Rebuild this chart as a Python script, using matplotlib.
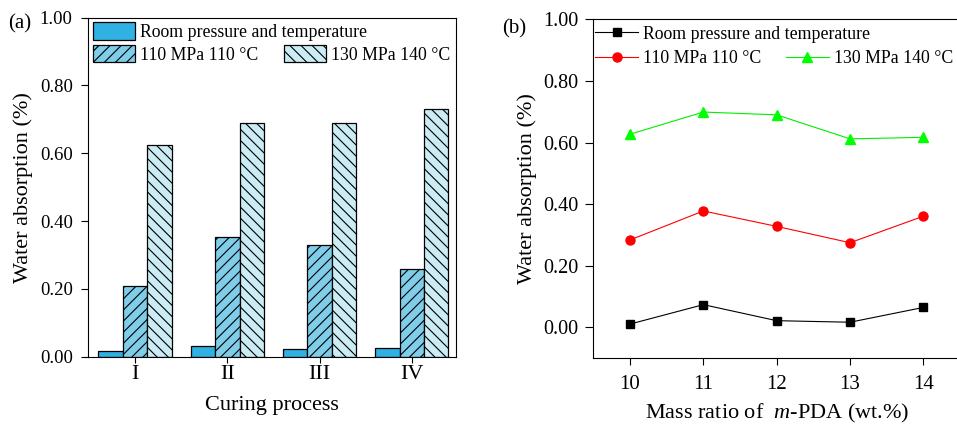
import numpy as np
import matplotlib
matplotlib.use("Agg")
import matplotlib.pyplot as plt

plt.rcParams['font.family'] = ['Liberation Serif', 'DejaVu Serif']
plt.rcParams['mathtext.fontset'] = 'custom'
plt.rcParams['mathtext.rm'] = 'Liberation Serif'
plt.rcParams['mathtext.it'] = 'Liberation Serif:italic'
plt.rcParams['hatch.linewidth'] = 0.8

# data
series = ["Room pressure and temperature", "110 MPa 110 \u00b0C", "130 MPa 140 \u00b0C"]
processes = ["I", "II", "III", "IV"]
bar_room = [0.018, 0.031, 0.024, 0.026]
bar_110 = [0.209, 0.352, 0.329, 0.258]
bar_130 = [0.624, 0.688, 0.690, 0.731]

mass_ratio = [10, 11, 12, 13, 14]
line_room = [0.011, 0.074, 0.022, 0.017, 0.065]
line_110 = [0.284, 0.378, 0.328, 0.275, 0.361]
line_130 = [0.627, 0.699, 0.690, 0.612, 0.617]

fig = plt.figure(figsize=(9.57, 4.24), dpi=100)

# ---- (a) bars
ax1 = fig.add_axes([0.092, 0.1587, 0.3845, 0.800])
x = np.arange(1, len(processes) + 1)
w = 0.265
b1 = ax1.bar(x - w, bar_room, w, color='#2fb1e2', edgecolor='black', linewidth=0.9)
b2 = ax1.bar(x, bar_110, w, color='#80cdea', edgecolor='black', linewidth=0.9, hatch='///')
b3 = ax1.bar(x + w, bar_130, w, color='#cbecf4', edgecolor='black', linewidth=0.9, hatch='\\\\\\')
ax1.set_xlim(0.49, 4.48)
ax1.set_ylim(0, 1.0)
ax1.set_yticks([0, 0.2, 0.4, 0.6, 0.8, 1.0])
ax1.set_yticklabels(["%.2f" % v for v in [0, 0.2, 0.4, 0.6, 0.8, 1.0]], fontsize=13.5)
ax1.set_xticks(x)
ax1.set_xticklabels(processes, fontsize=16)
ax1.tick_params(axis='y', direction='out', length=5, width=0.8, pad=6)
ax1.tick_params(axis='x', direction='out', length=4, width=0.8, pad=2)
ax1.set_ylabel("Water absorption (%)", fontsize=16)
ax1.yaxis.set_label_coords(-0.15, 0.5)
ax1.set_xlabel("Curing process", fontsize=16)
ax1.xaxis.set_label_coords(0.5, -0.115)
for s in ax1.spines.values():
    s.set_linewidth(0.8)

leg_kw = dict(frameon=False, fontsize=12.8, borderpad=0, borderaxespad=0,
              handletextpad=0.3, loc='center left')
lg1 = ax1.legend([b1], [series[0]], handlelength=2.34, handleheight=1.12,
                 bbox_to_anchor=(0.0136, 0.958), **leg_kw)
ax1.add_artist(lg1)
ax1.legend([b2, b3], series[1:], ncol=2, columnspacing=1.45, handlelength=2.34,
           handleheight=1.12, bbox_to_anchor=(0.0136, 0.891), **leg_kw)
fig.text(0.008, 0.932, "(a)", fontsize=15)

# ---- (b) lines
ax2 = fig.add_axes([0.620, 0.155, 0.3832, 0.7995])
l1, = ax2.plot(mass_ratio, line_room, color='black', marker='s', markersize=5.5, linewidth=0.8)
l2, = ax2.plot(mass_ratio, line_110, color='red', marker='o', markersize=6.5, linewidth=0.8)
l3, = ax2.plot(mass_ratio, line_130, color='#00ee00', marker='^', markersize=7,
               markerfacecolor='#00ff00', markeredgecolor='#00ff00', linewidth=0.8)
ax2.set_xlim(9.5, 14.5)
ax2.set_ylim(-0.1, 1.0)
ax2.set_yticks([0, 0.2, 0.4, 0.6, 0.8, 1.0])
ax2.set_yticklabels(["%.2f" % v for v in [0, 0.2, 0.4, 0.6, 0.8, 1.0]], fontsize=14.5)
ax2.set_xticks(mass_ratio)
ax2.set_xticklabels([str(m) for m in mass_ratio], fontsize=15)
ax2.tick_params(axis='y', direction='out', length=6, width=0.8, pad=4.5)
ax2.tick_params(axis='x', direction='out', length=5, width=0.8, pad=7)
ax2.set_ylabel("Water absorption (%)", fontsize=16)
ax2.yaxis.set_label_coords(-0.154, 0.5)
ax2.set_xlabel("Mass ratio of  $m$-PDA (wt.%)", fontsize=16)
ax2.xaxis.set_label_coords(0.5, -0.13)
for s in ax2.spines.values():
    s.set_linewidth(0.8)

lg2 = ax2.legend([l1], [series[0]], handlelength=2.42,
                 bbox_to_anchor=(0.0046, 0.956), **leg_kw)
ax2.add_artist(lg2)
ax2.legend([l2, l3], series[1:], ncol=2, columnspacing=1.35, handlelength=2.42,
           bbox_to_anchor=(0.0046, 0.885), **leg_kw)
fig.text(0.525, 0.922, "(b)", fontsize=15)

plt.savefig("out.png", dpi=100)
